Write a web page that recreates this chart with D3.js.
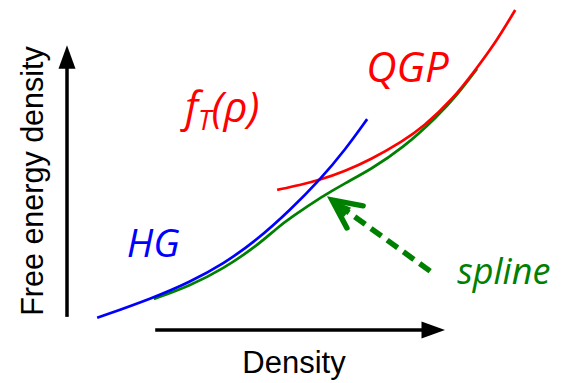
<!DOCTYPE html>
<html>
<head>
<meta charset="utf-8">
<script src="https://cdn.jsdelivr.net/npm/d3@7"></script>
<style>
  html, body { margin: 0; padding: 0; background: #fff; }
  svg { display: block; }
</style>
</head>
<body>
<div id="chart"></div>
<script>
// sketch units: density 0..100, free energy 0..100
const hgDensity = [6.7, 19.1, 27.3, 34.7, 42.2, 49.6, 56.2, 61.8, 66.7];
const hgEnergy = [3.8, 10.0, 15.0, 20.6, 28.1, 37.5, 46.9, 56.3, 65.9];

const qgpDensity = [46.7, 51.8, 56.2, 61.8, 67.3, 74.7, 79.1, 85.8, 91.1, 95.6, 99.6];
const qgpEnergy = [43.8, 45.3, 46.9, 49.7, 53.1, 59.1, 63.4, 72.2, 81.9, 90.6, 100];

const splineDensity = [19.3, 27.3, 34.7, 42.2, 46.7, 49.6, 56.9, 61.8, 67.3, 74.7, 82.2, 86.7, 91.1];
const splineEnergy = [9.7, 13.8, 19.1, 26.3, 31.9, 35.0, 41.9, 45.9, 50.0, 56.9, 66.6, 73.4, 81.6];

const axisLabels = ['Density', 'Free energy density'];

const width = 571, height = 383;

const x = d3.scaleLinear().domain([0, 100]).range([67, 517]);
const y = d3.scaleLinear().domain([0, 100]).range([330, 10]);

const svg = d3.select('#chart').append('svg')
  .attr('width', width)
  .attr('height', height);

const zip = (xs, ys) => xs.map((d, i) => [d, ys[i]]);

const line = d3.line()
  .x(d => x(d[0]))
  .y(d => y(d[1]))
  .curve(d3.curveBasis);

// axes as plain arrows
const yAxisFrom = [0, 4.1], yAxisTo = [0, 89];
const xAxisFrom = [19.6, 0], xAxisTo = [84, 0];

svg.append('line')
  .attr('x1', x(yAxisFrom[0])).attr('y1', y(yAxisFrom[1]))
  .attr('x2', x(yAxisTo[0])).attr('y2', y(yAxisTo[1]) + 20)
  .attr('stroke', '#000').attr('stroke-width', 3.5);
svg.append('path')
  .attr('d', `M${x(0)},${y(yAxisTo[1])} l-8.5,23.5 l17,0 Z`)
  .attr('fill', '#000');

svg.append('line')
  .attr('x1', x(xAxisFrom[0])).attr('y1', y(xAxisFrom[1]))
  .attr('x2', x(xAxisTo[0]) - 20).attr('y2', y(0))
  .attr('stroke', '#000').attr('stroke-width', 3.5);
svg.append('path')
  .attr('d', `M${x(xAxisTo[0])},${y(0)} l-23.5,-8.5 l0,17 Z`)
  .attr('fill', '#000');

svg.append('text')
  .attr('x', 294).attr('y', 373)
  .attr('text-anchor', 'middle')
  .style('font-family', '"Liberation Sans", Arial, sans-serif')
  .style('font-size', '31px')
  .text(axisLabels[0]);

svg.append('text')
  .attr('transform', 'translate(43,181) rotate(-90)')
  .attr('text-anchor', 'middle')
  .style('font-family', '"Liberation Sans", Arial, sans-serif')
  .style('font-size', '30.5px')
  .text(axisLabels[1]);

// curves
const curves = [
  { pts: zip(splineDensity, splineEnergy), color: '#008000' },
  { pts: zip(qgpDensity, qgpEnergy), color: '#ff0000' },
  { pts: zip(hgDensity, hgEnergy), color: '#0000ff' }
];

svg.selectAll('path.curve')
  .data(curves)
  .join('path')
  .attr('class', 'curve')
  .attr('d', d => line(d.pts))
  .attr('fill', 'none')
  .attr('stroke', d => d.color)
  .attr('stroke-width', 2.7);

// dashed arrow pointing at the spline
const arrowTail = [80.7, 18.4], arrowTip = [58.9, 40.6];
const headA = [65.8, 38.8], headB = [62.2, 31.9];

svg.append('line')
  .attr('x1', x(arrowTail[0])).attr('y1', y(arrowTail[1]))
  .attr('x2', x(arrowTip[0]) + 12).attr('y2', y(arrowTip[1]) + 9)
  .attr('stroke', '#008000').attr('stroke-width', 5.5)
  .attr('stroke-dasharray', '13,7');

svg.append('path')
  .attr('d', `M${x(headA[0])},${y(headA[1])} L${x(arrowTip[0])},${y(arrowTip[1])} L${x(headB[0])},${y(headB[1])}`)
  .attr('fill', 'none')
  .attr('stroke', '#008000').attr('stroke-width', 5.5)
  .attr('stroke-linejoin', 'miter')
  .attr('stroke-linecap', 'round');

svg.append('path')
  .attr('d', `M${x(arrowTip[0])},${y(arrowTip[1])} L${x(headA[0]) - 12},${y(headA[1]) + 2} L${x(headB[0]) - 3},${y(headB[1]) - 11} Z`)
  .attr('fill', '#008000');

// labels
const italic = '"Open Sans", "Noto Sans", sans-serif';

const labels = [
  { text: 'HG', at: [13.3, 22.8], color: '#0000ff', size: 39 },
  { text: 'QGP', at: [66.5, 77.5], color: '#ff0000', size: 42 },
  { text: 'spline', at: [86.7, 14.4], color: '#008000', size: 36 }
];

svg.selectAll('text.label')
  .data(labels)
  .join('text')
  .attr('class', 'label')
  .attr('x', d => x(d.at[0]))
  .attr('y', d => y(d.at[1]))
  .style('font-family', italic)
  .style('font-style', 'italic')
  .style('font-size', d => d.size + 'px')
  .attr('fill', d => d.color)
  .text(d => d.text);

const fLabel = svg.append('text')
  .attr('x', x(26.2)).attr('y', y(65.0))
  .style('font-family', italic)
  .style('font-style', 'italic')
  .style('font-size', '42px')
  .attr('fill', '#ff0000');
fLabel.append('tspan').text('f');
fLabel.append('tspan').attr('dy', 8).style('font-size', '27px').text('T');
fLabel.append('tspan').attr('dy', -8).text('(ρ)');
</script>
</body>
</html>
